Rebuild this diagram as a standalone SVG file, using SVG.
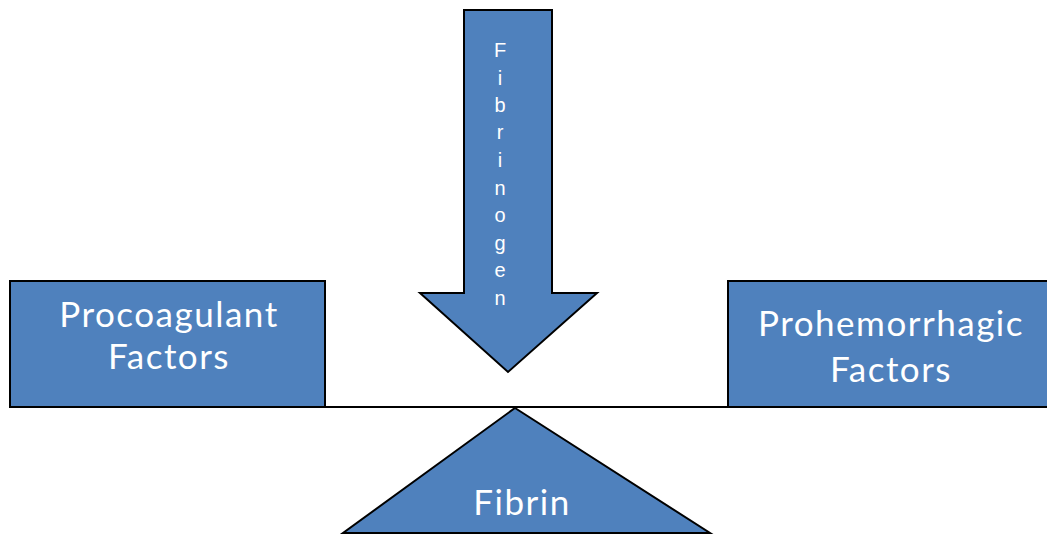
<svg xmlns="http://www.w3.org/2000/svg" width="1047" height="535" viewBox="0 0 1047 535">
<style>
.shape{fill:#4F81BD;stroke:#000;stroke-width:2;stroke-linejoin:miter}
.lbl{fill:#fff;font-family:Lato,"Open Sans","Liberation Sans",sans-serif;font-size:35px;text-anchor:middle;letter-spacing:1.5px}
.vl{fill:#fff;font-family:"Liberation Sans",Arial,sans-serif;font-size:20px;text-anchor:middle}
.conn{stroke:#000;stroke-width:2;fill:none}
</style>
<rect width="1047" height="535" fill="#fff"/>
<g id="connectors">
<line class="conn" x1="325" y1="407" x2="815" y2="407"/>
</g>
<g id="fibrinogen">
<polygon class="shape" points="464,10 552,10 552,293 597,293 508,372 420,293 464,293"/>
<text class="vl" x="500" y="57">F</text>
<text class="vl" x="500" y="85">i</text>
<text class="vl" x="500" y="112">b</text>
<text class="vl" x="500" y="139">r</text>
<text class="vl" x="500" y="167">i</text>
<text class="vl" x="500" y="195">n</text>
<text class="vl" x="500" y="222">o</text>
<text class="vl" x="500" y="250">g</text>
<text class="vl" x="500" y="277">e</text>
<text class="vl" x="500" y="305">n</text>
</g>
<g id="procoagulant">
<rect class="shape" x="10" y="281" width="315" height="126"/>
<text class="lbl" x="169" y="327">Procoagulant</text>
<text class="lbl" x="169" y="369">Factors</text>
</g>
<g id="prohemorrhagic">
<rect class="shape" x="728" y="281" width="330" height="126"/>
<text class="lbl" x="891" y="336">Prohemorrhagic</text>
<text class="lbl" x="891" y="382">Factors</text>
</g>
<g id="fibrin">
<polygon class="shape" points="515,408 710,533 343,533"/>
<text class="lbl" x="522" y="515">Fibrin</text>
</g>
</svg>
